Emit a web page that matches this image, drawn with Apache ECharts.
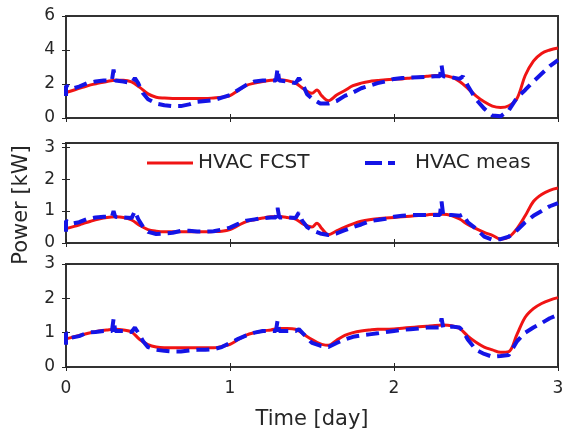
<!DOCTYPE html>
<html>
<head>
<meta charset="utf-8">
<script src="https://cdn.jsdelivr.net/npm/echarts@6/dist/echarts.min.js"></script>
<style>
  html, body { margin: 0; padding: 0; background: #fff; }
  #chart { width: 569px; height: 436px; }
</style>
</head>
<body>
<div id="chart"></div>
<script>
// Forecast samples (time in days)
const fcstTime = [0, 0.05, 0.1, 0.15, 0.2, 0.25, 0.3, 0.35, 0.4, 0.45, 0.5, 0.55, 0.6, 0.65, 0.7, 0.75, 0.8, 0.85, 0.9, 0.95,
  1.0, 1.05, 1.1, 1.15, 1.2, 1.25, 1.3, 1.35, 1.4, 1.45, 1.5, 1.53, 1.56, 1.6, 1.65, 1.7, 1.75, 1.8, 1.85, 1.9, 1.95,
  2.0, 2.05, 2.1, 2.15, 2.2, 2.25, 2.3, 2.35, 2.4, 2.45, 2.5, 2.55, 2.6, 2.65, 2.7, 2.75, 2.8, 2.85, 2.9, 2.95, 3.0];

const fcstTop = [1.50, 1.65, 1.80, 1.95, 2.05, 2.15, 2.22, 2.22, 2.12, 1.80, 1.42, 1.22, 1.17, 1.15, 1.15, 1.15, 1.15, 1.15, 1.18, 1.22,
  1.32, 1.62, 1.92, 2.05, 2.15, 2.22, 2.25, 2.20, 2.05, 1.70, 1.45, 1.65, 1.30, 1.02, 1.35, 1.62, 1.90, 2.05, 2.15, 2.20, 2.25,
  2.28, 2.30, 2.35, 2.40, 2.45, 2.50, 2.50, 2.40, 2.15, 1.75, 1.30, 0.95, 0.70, 0.62, 0.72, 1.15, 2.50, 3.35, 3.80, 4.00, 4.12];

const fcstMid = [0.45, 0.52, 0.60, 0.68, 0.75, 0.80, 0.82, 0.80, 0.72, 0.55, 0.42, 0.37, 0.35, 0.35, 0.35, 0.35, 0.35, 0.35, 0.36, 0.37,
  0.42, 0.55, 0.67, 0.73, 0.78, 0.82, 0.83, 0.80, 0.75, 0.58, 0.50, 0.62, 0.45, 0.26, 0.38, 0.50, 0.60, 0.68, 0.73, 0.76, 0.78,
  0.80, 0.82, 0.84, 0.86, 0.88, 0.90, 0.90, 0.86, 0.75, 0.58, 0.45, 0.33, 0.24, 0.12, 0.18, 0.45, 0.85, 1.30, 1.52, 1.65, 1.72];

const fcstBot = [0.82, 0.88, 0.94, 1.00, 1.05, 1.08, 1.10, 1.08, 1.02, 0.80, 0.65, 0.58, 0.56, 0.56, 0.56, 0.56, 0.56, 0.56, 0.56, 0.60,
  0.66, 0.80, 0.93, 1.00, 1.05, 1.08, 1.12, 1.12, 1.10, 0.95, 0.80, 0.72, 0.66, 0.63, 0.78, 0.92, 1.00, 1.05, 1.08, 1.10, 1.10,
  1.11, 1.13, 1.15, 1.17, 1.19, 1.21, 1.22, 1.20, 1.12, 0.90, 0.72, 0.58, 0.50, 0.43, 0.45, 0.95, 1.45, 1.70, 1.85, 1.95, 2.02];

// Measured samples (time in days; repeated times are sharp jumps)
const measTime = [0, 0, 0.03, 0.08, 0.13, 0.18, 0.23, 0.28, 0.29, 0.3, 0.35, 0.4, 0.42, 0.44, 0.47, 0.5, 0.55, 0.6, 0.65, 0.7, 0.75,
  0.8, 0.85, 0.9, 0.95, 1.0, 1.05, 1.1, 1.15, 1.2, 1.25, 1.28, 1.29, 1.3, 1.35, 1.4, 1.42, 1.44, 1.47, 1.5, 1.55, 1.6, 1.65,
  1.7, 1.75, 1.8, 1.85, 1.9, 1.95, 2.0, 2.05, 2.1, 2.15, 2.2, 2.25, 2.28, 2.29, 2.3, 2.35, 2.4, 2.42, 2.45, 2.5, 2.55, 2.6,
  2.65, 2.7, 2.75, 2.8, 2.85, 2.9, 2.95, 3.0];

const measTop = [1.30, 1.90, 1.70, 1.85, 2.05, 2.15, 2.20, 2.20, 2.85, 2.20, 2.15, 2.05, 2.35, 2.05, 1.45, 1.10, 0.85, 0.75, 0.70, 0.70, 0.80,
  0.95, 1.00, 1.05, 1.20, 1.35, 1.65, 1.95, 2.15, 2.20, 2.20, 2.20, 2.90, 2.20, 2.15, 2.05, 2.35, 2.05, 1.40, 1.15, 0.85, 0.85, 1.00,
  1.30, 1.50, 1.75, 1.90, 2.05, 2.15, 2.30, 2.35, 2.38, 2.40, 2.42, 2.45, 2.45, 3.10, 2.45, 2.40, 2.30, 2.45, 1.90, 1.10, 0.55, 0.15,
  0.10, 0.45, 1.20, 1.65, 2.15, 2.60, 3.05, 3.40];

const measMid = [0.35, 0.70, 0.60, 0.65, 0.75, 0.80, 0.82, 0.82, 1.00, 0.82, 0.80, 0.78, 1.00, 0.75, 0.50, 0.35, 0.28, 0.30, 0.32, 0.38, 0.38,
  0.36, 0.36, 0.37, 0.42, 0.48, 0.60, 0.70, 0.74, 0.78, 0.80, 0.80, 1.10, 0.80, 0.80, 0.78, 0.95, 0.70, 0.50, 0.40, 0.30, 0.25, 0.30,
  0.40, 0.50, 0.58, 0.68, 0.72, 0.76, 0.82, 0.85, 0.88, 0.88, 0.88, 0.88, 0.88, 1.30, 0.88, 0.88, 0.85, 0.90, 0.65, 0.45, 0.20, 0.10,
  0.12, 0.20, 0.40, 0.65, 0.85, 1.00, 1.15, 1.25];

const measBot = [0.65, 1.00, 0.85, 0.90, 1.00, 1.02, 1.05, 1.05, 1.40, 1.05, 1.05, 1.02, 1.15, 1.00, 0.75, 0.58, 0.50, 0.47, 0.45, 0.45, 0.48,
  0.50, 0.50, 0.52, 0.58, 0.70, 0.82, 0.92, 1.00, 1.05, 1.05, 1.05, 1.35, 1.05, 1.05, 1.05, 1.10, 1.00, 0.85, 0.70, 0.62, 0.58, 0.70,
  0.80, 0.88, 0.92, 0.95, 0.98, 1.02, 1.05, 1.08, 1.10, 1.12, 1.15, 1.15, 1.15, 1.42, 1.15, 1.18, 1.15, 1.05, 0.80, 0.50, 0.38, 0.30,
  0.32, 0.35, 0.75, 1.00, 1.15, 1.28, 1.42, 1.52];

// Axis ticks
const xTicks = [0, 1, 2, 3];
const yTicksTop = [0, 2, 4, 6];
const yTicksMid = [0, 1, 2, 3];
const yTicksBot = [0, 1, 2, 3];

const seriesNames = ['HVAC FCST', 'HVAC meas'];

const FONT = 'DejaVu Sans';
const INK = '#262626';
const RED = '#f01414';
const BLUE = '#1414e6';
const MEAS_DASH = [13, 7];

const grids = [
  { left: 66, top: 16, width: 492, height: 102 },
  { left: 66, top: 143, width: 492, height: 100 },
  { left: 66, top: 264, width: 492, height: 103 }
];
const yMax = [6, 3.13, 3];
const yTickSets = [yTicksTop, yTicksMid, yTicksBot];
const fcstSets = [fcstTop, fcstMid, fcstBot];
const measSets = [measTop, measMid, measBot];

const xAxes = [];
const yAxes = [];
const series = [];

const tickFmt = (ticks) => (v) => (ticks.indexOf(Math.round(v * 1000) / 1000) >= 0 ? String(v) : '');
const innerTick = { show: true, inside: true, length: 4, lineStyle: { color: INK, width: 1 } };

grids.forEach((g, i) => {
  const last = i === grids.length - 1;
  // bottom x axis
  xAxes.push({
    gridIndex: i, type: 'value', min: xTicks[0], max: xTicks[xTicks.length - 1], interval: 1,
    position: 'bottom',
    axisLine: { show: false },
    axisTick: innerTick,
    axisLabel: { show: last, formatter: tickFmt(xTicks), fontFamily: FONT, fontSize: 17, color: INK, margin: 13 },
    splitLine: { show: false },
    name: last ? 'Time [day]' : '',
    nameLocation: 'middle', nameGap: 42,
    nameTextStyle: { fontFamily: FONT, fontSize: 21, color: INK }
  });
  // top x axis (ticks only)
  xAxes.push({
    gridIndex: i, type: 'value', min: xTicks[0], max: xTicks[xTicks.length - 1], interval: 1,
    position: 'top',
    axisLine: { show: false }, axisTick: innerTick,
    axisLabel: { show: false }, splitLine: { show: false }
  });
  const ticks = yTickSets[i];
  const step = ticks[1] - ticks[0];
  yAxes.push({
    gridIndex: i, type: 'value', min: 0, max: yMax[i], interval: step,
    position: 'left',
    axisLine: { show: false }, axisTick: innerTick,
    axisLabel: { formatter: tickFmt(ticks), fontFamily: FONT, fontSize: 17, color: INK, margin: 11 },
    splitLine: { show: false }
  });
  yAxes.push({
    gridIndex: i, type: 'value', min: 0, max: yMax[i], interval: step,
    position: 'right',
    axisLine: { show: false }, axisTick: innerTick,
    axisLabel: { show: false }, splitLine: { show: false }
  });

  series.push({
    name: seriesNames[0], type: 'line',
    xAxisIndex: i * 2, yAxisIndex: i * 2,
    data: fcstTime.map((t, k) => [t, fcstSets[i][k]]),
    showSymbol: false, symbol: 'none', smooth: 0.35,
    lineStyle: { color: RED, width: 3 },
    z: 2
  });
  series.push({
    name: seriesNames[1], type: 'line',
    xAxisIndex: i * 2, yAxisIndex: i * 2,
    data: measTime.map((t, k) => [t, measSets[i][k]]),
    showSymbol: false, symbol: 'none', smooth: false,
    lineStyle: { color: BLUE, width: 4, type: MEAS_DASH },
    z: 3
  });
});

// Legend, drawn inside the middle panel
const legendY = 163;
const legendItems = [
  { x: 147, len: 46, color: RED, width: 3, dash: null, label: seriesNames[0] },
  { x: 365, len: 30, color: BLUE, width: 4, dash: [17, 6], label: seriesNames[1], textX: 415 }
];
const legendGraphics = [];
legendItems.forEach(it => {
  legendGraphics.push({
    type: 'line', silent: true,
    shape: { x1: it.x, y1: legendY, x2: it.x + it.len, y2: legendY },
    style: { stroke: it.color, lineWidth: it.width, lineDash: it.dash || null }
  });
  legendGraphics.push({
    type: 'text', silent: true,
    x: it.textX || (it.x + it.len + 5), y: legendY,
    style: { text: it.label, fontFamily: FONT, fontSize: 20, fill: INK, align: 'left', verticalAlign: 'middle' }
  });
});

const chart = echarts.init(document.getElementById('chart'), null, { renderer: 'canvas' });
chart.setOption({
  animation: false,
  backgroundColor: '#ffffff',
  grid: grids.map(g => Object.assign({ show: true, borderColor: '#333', borderWidth: 2, backgroundColor: 'transparent' }, g)),
  xAxis: xAxes,
  yAxis: yAxes,
  graphic: legendGraphics.concat([{
    type: 'text', silent: true,
    x: 22, y: 205,
    rotation: Math.PI / 2,
    style: {
      text: 'Power [kW]', fontFamily: FONT, fontSize: 21, fill: INK,
      align: 'center', verticalAlign: 'middle'
    }
  }]),
  series: series
});
</script>
</body>
</html>
